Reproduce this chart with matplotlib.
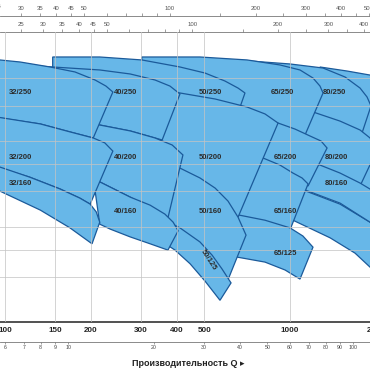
import matplotlib
matplotlib.use("Agg")
import matplotlib.pyplot as plt
import matplotlib.transforms as mtransforms
from matplotlib.ticker import NullFormatter, NullLocator

plt.rcParams["font.family"] = ["Liberation Sans", "DejaVu Sans"]

FILL = "#67b7e8"
EDGE = "#1b5a9a"

# flow Q in l/min, head H in m; curves listed left to right
m100_250_top = [(1274, 109.3), (1585, 105.8), (1909, 102.4), (2432, 98.4)]
m100_250_bot = [(1382, 38.9), (2432, 25.9)]
m100_200_top = [(1067, 41.1), (1498, 36.1), (1909, 31.2), (2432, 27.0)]
m100_200_bot = [(1024, 31.7), (1382, 27.5), (1691, 24.3), (1909, 21.7), (2154, 19.2), (2432, 16.9)]

m80_250_top = [(724, 114.7), (1000, 112.0), (1306, 108.4), (1560, 100.8), (1761, 92.2), (1863, 85.8), (1924, 79.8)]
m80_250_bot = [(724, 83.7), (1084, 76.0), (1789, 64.1)]
m80_200_top = [(724, 87.2), (1000, 81.0), (1204, 76.0), (1498, 70.6), (1761, 65.7), (1909, 61.6), (2004, 55.0)]
m80_200_bot = [(724, 55.9), (1084, 49.5), (1498, 43.9), (1761, 41.8)]
m80_160_top = [(851, 55.9), (1084, 52.4), (1274, 49.5), (1498, 46.4), (1761, 42.8), (1987, 39.8), (2243, 35.8)]
m80_160_bot = [(1084, 41.1), (1498, 36.4), (1909, 31.2), (2243, 28.1)]

m65_250_top = [(302, 118.5), (483, 118.5), (707, 115.7), (922, 111.1), (1084, 106.7), (1204, 100.0), (1274, 93.7), (1306, 88.6)]
m65_250_bot = [(302, 87.2), (483, 80.4), (724, 72.4), (1129, 63.1)]
m65_200_top = [(411, 83.7), (616, 78.5), (908, 69.5), (1041, 66.2), (1175, 62.6), (1285, 60.1), (1349, 56.8)]
m65_200_bot = [(411, 58.2), (785, 47.5), (1157, 41.8)]
m65_160_top = [(483, 60.6), (668, 55.9), (804, 52.4), (922, 49.5), (1024, 46.4), (1102, 44.6), (1157, 42.5)]
m65_160_bot = [(483, 34.4), (668, 31.2), (817, 30.2), (1000, 29.3)]
m65_125_top = [(483, 35.8), (657, 33.1), (817, 31.7), (1000, 29.8), (1110, 27.9), (1204, 25.5)]
m65_125_bot = [(483, 24.9), (657, 23.5), (817, 22.6), (961, 21.2), (1084, 19.7)]

m50_250_top = [(147, 118.5), (215, 118.5), (302, 115.7), (411, 109.3), (503, 104.1), (591, 97.6), (657, 92.2), (695, 88.6)]
m50_250_bot = [(147, 103.3), (215, 98.4), (350, 90.8), (483, 85.1), (668, 79.1)]
m50_200_top = [(215, 100.0), (323, 92.2), (411, 88.6), (546, 84.4), (707, 79.1), (817, 74.8), (908, 69.5)]
m50_200_bot = [(215, 51.6), (323, 43.9), (483, 37.3), (646, 31.2)]
m50_160_top = [(253, 55.9), (323, 51.6), (411, 48.3), (483, 44.6), (546, 41.1), (606, 37.0), (657, 32.5), (701, 28.1)]
m50_160_bot = [(253, 33.1), (323, 28.8), (411, 24.5), (503, 20.4), (596, 18.8)]
m50_125_top = [(253, 37.3), (323, 33.6), (411, 29.8), (483, 26.6), (533, 23.9), (577, 21.4), (621, 19.1)]
m50_125_bot = [(253, 32.3), (323, 28.4), (395, 24.9), (446, 22.3), (503, 19.4), (568, 16.6)]

m40_250_top = [(88.6, 112.9), (113, 111.1), (147, 109.3), (215, 106.7), (275, 103.3), (336, 98.4), (379, 93.7), (411, 87.9)]
m40_250_bot = [(88.6, 80.4), (133, 75.4), (215, 68.4), (275, 65.2), (356, 60.6)]
m40_200_top = [(88.6, 80.4), (133, 75.4), (169, 71.8), (215, 68.4), (275, 65.2), (336, 61.6), (386, 58.2), (421, 53.7)]
m40_200_bot = [(88.6, 55.9), (133, 51.6), (215, 43.2), (275, 38.2), (373, 32.3)]
m40_160_top = [(205, 43.2), (215, 43.2), (275, 38.2), (323, 35.8), (364, 33.3), (389, 31.2), (405, 29.1)]
m40_160_bot = [(215, 30.7), (234, 29.5), (275, 27.7), (323, 26.2), (373, 24.9)]

m32_250_top = [(88.6, 116.6), (113, 113.8), (144, 109.3), (176, 105.0), (207, 98.4), (226, 93.7), (239, 89.3)]
m32_250_bot = [(88.6, 73.6), (96.0, 72.4), (133, 69.0), (169, 64.7), (204, 61.6)]
m32_200_top = [(88.6, 73.6), (133, 69.0), (169, 64.7), (204, 61.6), (224, 59.2), (239, 55.4)]
m32_200_bot = [(88.6, 49.5), (122, 44.9), (156, 40.8), (183, 37.9), (199, 36.1)]
m32_160_top = [(88.6, 49.5), (96.0, 48.7), (122, 44.9), (156, 40.8), (183, 37.9), (199, 36.1), (209, 33.9), (215, 31.2)]
m32_160_bot = [(88.6, 41.4), (96.0, 40.1), (133, 34.4), (169, 29.8), (202, 26.2)]

# label anchor (Q, H) for each model
label_pos = {
    "32/250": (113, 89.3), "32/200": (113, 52.8), "32/160": (113, 42.8),
    "40/250": (264, 89.3), "40/200": (264, 52.8), "40/160": (264, 34.1),
    "50/250": (524, 89.3), "50/200": (524, 52.8), "50/160": (524, 34.1), "50/125": (516, 23.0),
    "65/250": (937, 89.3), "65/200": (961, 52.8), "65/160": (961, 34.1), "65/125": (961, 24.3),
    "80/250": (1427, 89.3), "80/200": (1450, 52.8), "80/160": (1450, 42.8),
}

lmin_ticks = [100, 150, 200, 300, 400, 500, 1000]
m3h_ticks = [6, 7, 8, 9, 10, 20, 30, 40, 50, 60, 70, 80, 90, 100]
usgpm_major = [30, 35, 40, 45, 50, 100, 200, 300, 400, 500]
usgpm_minor = [60, 70, 80, 90, 150, 250, 350, 450]
impgpm_major = [25, 30, 35, 40, 45, 50, 100, 200, 300, 400]
impgpm_minor = [60, 70, 80, 90, 150, 250, 350]
head_grid = [20, 25, 30, 40, 50, 60, 80, 100]

# bigger pumps first so the smaller ones sit on top
regions = [
    ("100/250", m100_250_top, m100_250_bot),
    ("100/200", m100_200_top, m100_200_bot),
    ("80/250", m80_250_top, m80_250_bot),
    ("80/200", m80_200_top, m80_200_bot),
    ("80/160", m80_160_top, m80_160_bot),
    ("65/250", m65_250_top, m65_250_bot),
    ("65/200", m65_200_top, m65_200_bot),
    ("65/160", m65_160_top, m65_160_bot),
    ("65/125", m65_125_top, m65_125_bot),
    ("50/250", m50_250_top, m50_250_bot),
    ("50/200", m50_200_top, m50_200_bot),
    ("50/160", m50_160_top, m50_160_bot),
    ("50/125", m50_125_top, m50_125_bot),
    ("40/250", m40_250_top, m40_250_bot),
    ("40/200", m40_200_top, m40_200_bot),
    ("40/160", m40_160_top, m40_160_bot),
    ("32/250", m32_250_top, m32_250_bot),
    ("32/200", m32_200_top, m32_200_bot),
    ("32/160", m32_160_top, m32_160_bot),
]

fig = plt.figure(figsize=(3.7, 3.7), dpi=100)
ax = fig.add_axes([0, 48 / 370, 1, 290 / 370])
ax.set_xscale("log")
ax.set_yscale("log")
ax.set_xlim(96.04, 1908.4)
ax.set_ylim(13.93, 145.0)

for name, top, bot in regions:
    outline = top + bot[::-1]
    ax.fill([q for q, h in outline], [h for q, h in outline],
            facecolor=FILL, edgecolor=EDGE, linewidth=0.9)

for name, (q, h) in label_pos.items():
    rot = -57 if name == "50/125" else 0
    ax.text(q, h, name, ha="center", va="center", fontsize=5.5, fontweight="bold",
            color="#2b2b2b", rotation=rot, zorder=4)

ax.set_axisbelow(False)
ax.grid(True, which="major", color="#c4c4c4", linewidth=0.7, alpha=0.75)
for side in ["left", "right", "top"]:
    ax.spines[side].set_visible(False)
ax.spines["bottom"].set_color("#333333")
ax.spines["bottom"].set_linewidth(1.2)

ax.set_xticks(lmin_ticks, labels=[str(v) for v in lmin_ticks])
ax.xaxis.set_minor_locator(NullLocator())
ax.set_yticks(head_grid)
ax.yaxis.set_minor_locator(NullLocator())
ax.tick_params(axis="x", which="major", length=0, pad=3.4, labelsize=5.8, labelcolor="#222222")
ax.tick_params(axis="y", which="both", length=0, labelleft=False)
for t in ax.get_xticklabels():
    t.set_fontweight("bold")

edge_tf = mtransforms.blended_transform_factory(ax.transData, ax.transAxes)
# 2000 l/min sits just past the right edge, only its first digit shows
ax.text(2000, -9 / 290, "2000", transform=edge_tf, ha="center", va="center",
        fontsize=5.8, fontweight="bold", color="#222222", clip_on=False)
# 25 US gpm sits just past the left edge
ax.text(25 / 0.264172, 1 + 25 / 290, "25", transform=edge_tf, ha="center", va="center",
        fontsize=4.3, color="#555555", clip_on=False)

# m3/h scale under the l/min scale
sec_m3 = ax.secondary_xaxis(-20 / 290, functions=(lambda q: q * 0.06, lambda m: m / 0.06))
sec_m3.set_xticks(m3h_ticks, labels=[str(v) for v in m3h_ticks])
sec_m3.xaxis.set_minor_locator(NullLocator())
sec_m3.tick_params(direction="out", length=1.5, width=0.5, color="#777777",
                   labelsize=3.8, labelcolor="#444444", pad=0.8)
sec_m3.spines["bottom"].set_color("#777777")
sec_m3.spines["bottom"].set_linewidth(0.6)

# imperial gpm on the plot top, US gpm above it
for loc, conv, major, minor in [
    ("top", 0.219969, impgpm_major, impgpm_minor),
    (1 + 16 / 290, 0.264172, usgpm_major, usgpm_minor),
]:
    sec = ax.secondary_xaxis(loc, functions=(lambda q, c=conv: q * c, lambda g, c=conv: g / c))
    sec.set_xticks(major, labels=[str(v) for v in major])
    sec.set_xticks(minor, minor=True)
    sec.xaxis.set_minor_formatter(NullFormatter())
    sec.tick_params(which="both", direction="out", length=2.0, width=0.5, color="#777777",
                    labelsize=4.3, labelcolor="#555555", pad=1.6)
    sec.spines["top"].set_color("#777777")
    sec.spines["top"].set_linewidth(0.6)

fig.text(188 / 370, 1 - 363 / 370, "Производительность Q ▸", ha="center", va="center",
         fontsize=6.5, fontweight="bold", color="#222222")

fig.savefig("out.png", dpi=100)
